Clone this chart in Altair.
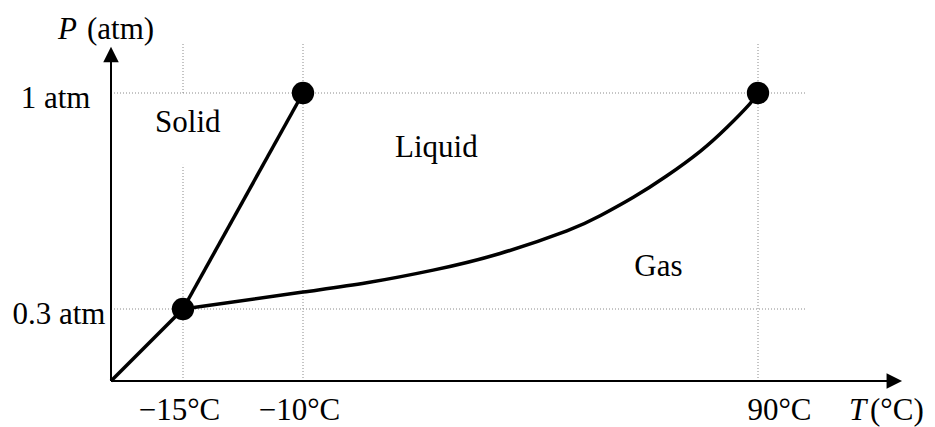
import altair as alt
import pandas as pd

# ---- data (temperature in °C, pressure in atm) ----
T_ticks = [-15, -10, 90]
T_tick_labels = ["\u221215\u00b0C", "\u221210\u00b0C", "90\u00b0C"]
P_ticks = [0.3, 1.0]
P_tick_labels = ["0.3 atm", "1 atm"]

# schematic (non-linear) axes: breakpoints of the drawn axes
T_breaks = [-20, -15, -10, 90, 100]
P_breaks = [0, 0.3, 1.0, 1.2]

# phase boundaries
sub_T = [-20, -15]
sub_P = [0.0, 0.3]
fus_T = [-15, -10]
fus_P = [0.3, 1.0]
vap_T = [-15, -10, 4.0, 18.6, 33.3, 48.0, 55.3, 62.6, 69.9, 77.3, 83.2, 88.2, 90]
vap_P = [0.30, 0.355, 0.385, 0.426, 0.480, 0.553, 0.602, 0.662, 0.731, 0.811, 0.889, 0.965, 1.00]

# marked points
pt_T = [-15, -10, 90]
pt_P = [0.3, 1.0, 1.0]

# region labels
regions = ["Solid", "Liquid", "Gas"]
region_T = [-14.8, 19.3, 68.1]
region_P = [0.874, 0.793, 0.407]

# dotted guide segments
grid_T = [-15, -15, -10, 90, -20, -20]
grid_T2 = [-15, -15, -10, 90, 100, 100]
grid_P = [0.0, 1.0, 0.0, 0.0, 0.3, 1.0]
grid_P2 = [0.767, 1.2, 1.2, 1.2, 0.3, 1.0]

# axis arrows
axis_T_end = 119
axis_P_end = 1.154

FONT = "Liberation Serif"
FS = 31

# ---- scales & axes ----
xs = alt.Scale(domain=T_breaks, range=[0, 72, 192, 647, 694], nice=False, zero=False)
ys = alt.Scale(domain=P_breaks, range=[338, 266, 50, 0], nice=False, zero=False)


def build_expr(vals, labels):
    expr = "''"
    for v, l in reversed(list(zip(vals, labels))):
        expr = f"datum.value == {v} ? '{l}' : {expr}"
    return expr


x_axis = alt.Axis(
    values=T_ticks, labelExpr=build_expr(T_ticks, T_tick_labels), title=None,
    domain=False, ticks=False, tickSize=0, grid=False,
    labelFont=FONT, labelFontSize=FS, labelColor="black",
    labelBaseline="alphabetic", labelPadding=38,
    labelOffset={"condition": {"test": "datum.value == 90", "value": 21}, "value": -4},
    labelFlush=False, labelOverlap=False, labelBound=False,
)
y_axis = alt.Axis(
    values=P_ticks, labelExpr=build_expr(P_ticks, P_tick_labels), title=None,
    domain=False, ticks=False, tickSize=0, grid=False,
    labelFont=FONT, labelFontSize=FS, labelColor="black",
    labelBaseline="alphabetic", labelOffset=14,
    labelPadding={"condition": {"test": "datum.value == 1", "value": 21}, "value": 6},
    labelFlush=False, labelOverlap=False, labelBound=False,
)


def X(f="T"):
    return alt.X(f"{f}:Q", scale=xs, axis=x_axis)


def Y(f="P"):
    return alt.Y(f"{f}:Q", scale=ys, axis=y_axis)


# ---- layers ----
grid_df = pd.DataFrame({"T": grid_T, "T2": grid_T2, "P": grid_P, "P2": grid_P2})
grid = alt.Chart(grid_df).mark_rule(color="#8a8a8a", strokeWidth=1, strokeDash=[1, 2]).encode(
    x=X(), x2="T2:Q", y=Y(), y2="P2:Q"
)

axes_df = pd.DataFrame({
    "T": [T_breaks[0], T_breaks[0]], "T2": [axis_T_end, T_breaks[0]],
    "P": [P_breaks[0], P_breaks[0]], "P2": [P_breaks[0], axis_P_end],
})
axes = alt.Chart(axes_df).mark_rule(color="black", strokeWidth=2).encode(
    x=X(), x2="T2:Q", y=Y(), y2="P2:Q"
)

arrow_up = alt.Chart(pd.DataFrame({"T": [T_breaks[0]], "P": [axis_P_end]})).mark_point(
    shape="M-1,1L1,1L0,-1Z", filled=True, size=240, color="black", opacity=1
).encode(x=X(), y=Y())
arrow_right = alt.Chart(pd.DataFrame({"T": [axis_T_end], "P": [P_breaks[0]]})).mark_point(
    shape="M-1,-1L1,0L-1,1Z", filled=True, size=240, color="black", opacity=1
).encode(x=X(), y=Y())

rows = []
for name, ts, ps in [("sub", sub_T, sub_P), ("fus", fus_T, fus_P), ("vap", vap_T, vap_P)]:
    for i, (t, p) in enumerate(zip(ts, ps)):
        rows.append({"boundary": name, "i": i, "T": t, "P": p})
bound_df = pd.DataFrame(rows)
bounds = alt.Chart(bound_df).mark_line(
    color="black", strokeWidth=3.5, interpolate="natural"
).encode(x=X(), y=Y(), detail="boundary:N", order="i:Q")

points = alt.Chart(pd.DataFrame({"T": pt_T, "P": pt_P})).mark_circle(
    size=500, color="black", opacity=1
).encode(x=X(), y=Y())

region_text = alt.Chart(pd.DataFrame({"T": region_T, "P": region_P, "name": regions})).mark_text(
    font=FONT, fontSize=FS, color="black", align="center", baseline="alphabetic"
).encode(x=X(), y=Y(), text="name:N")


def title_text(txt, px, py, italic=False):
    kw = dict(font=FONT, fontSize=FS, color="black", align="left", baseline="alphabetic")
    if italic:
        kw["fontStyle"] = "italic"
    return alt.Chart(pd.DataFrame({"t": [txt]})).mark_text(**kw).encode(
        x=alt.value(px), y=alt.value(py), text="t:N"
    )


titles = [
    title_text("P", -53, -4.5, italic=True),
    title_text("(atm)", -24, -4.5),
    title_text("T", 738, 377, italic=True),
    title_text("(\u00b0C)", 759, 377),
]

chart = alt.layer(grid, axes, arrow_up, arrow_right, bounds, points, region_text, *titles).properties(
    width=694, height=338,
    autosize=alt.AutoSizeParams(type="none"),
    padding={"left": 103, "top": 35, "right": 122, "bottom": 46},
    background="white",
).configure_view(stroke=None)

chart.save("out.html", embed_options={"renderer": "svg", "actions": False})
